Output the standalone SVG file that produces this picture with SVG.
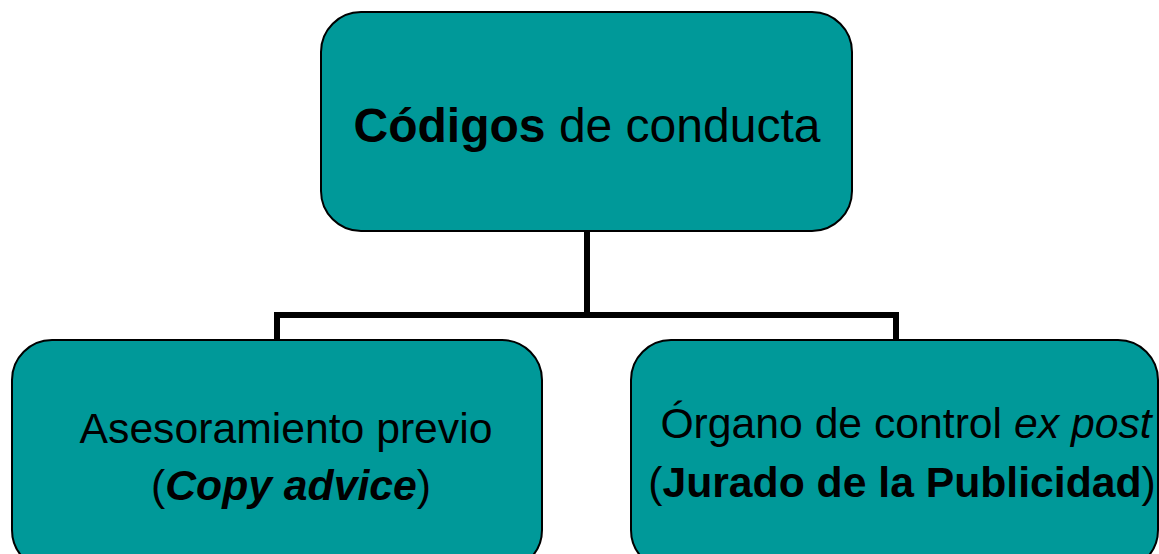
<svg xmlns="http://www.w3.org/2000/svg" width="1159" height="554" viewBox="0 0 1159 554">
<style>
.box{fill:#009999;stroke:#000;stroke-width:2}
.conn{fill:none;stroke:#000;stroke-width:6;stroke-linejoin:miter}
text{font-family:"Liberation Sans",Arial,sans-serif;fill:#000}
.t1{font-size:48px}
.t2{font-size:42.7px}
.b{font-weight:bold}
.i{font-style:italic}
</style>
<rect width="1159" height="554" fill="#fff"/>
<g id="connectors">
<path class="conn" d="M587,231 V315"/>
<path class="conn" d="M277,341 V315 H896 V341"/>
</g>
<g id="node-top">
<rect class="box" x="321" y="12" width="531" height="219" rx="40" ry="40"/>
<text class="t1" x="587" y="142" text-anchor="middle"><tspan class="b">Códigos</tspan> de conducta</text>
</g>
<g id="node-left">
<rect class="box" x="12" y="340" width="530" height="230" rx="40" ry="40"/>
<text class="t2" x="286" y="443" text-anchor="middle">Asesoramiento previo</text>
<text class="t2" x="291" y="500" text-anchor="middle">(<tspan class="b i">Copy advice</tspan>)</text>
</g>
<g id="node-right">
<rect class="box" x="631" y="340" width="527" height="230" rx="40" ry="40"/>
<text class="t2" x="906" y="438" text-anchor="middle">Órgano de control <tspan class="i">ex post</tspan></text>
<text class="t2" x="902" y="497" text-anchor="middle">(<tspan class="b">Jurado de la Publicidad</tspan>)</text>
</g>
</svg>
